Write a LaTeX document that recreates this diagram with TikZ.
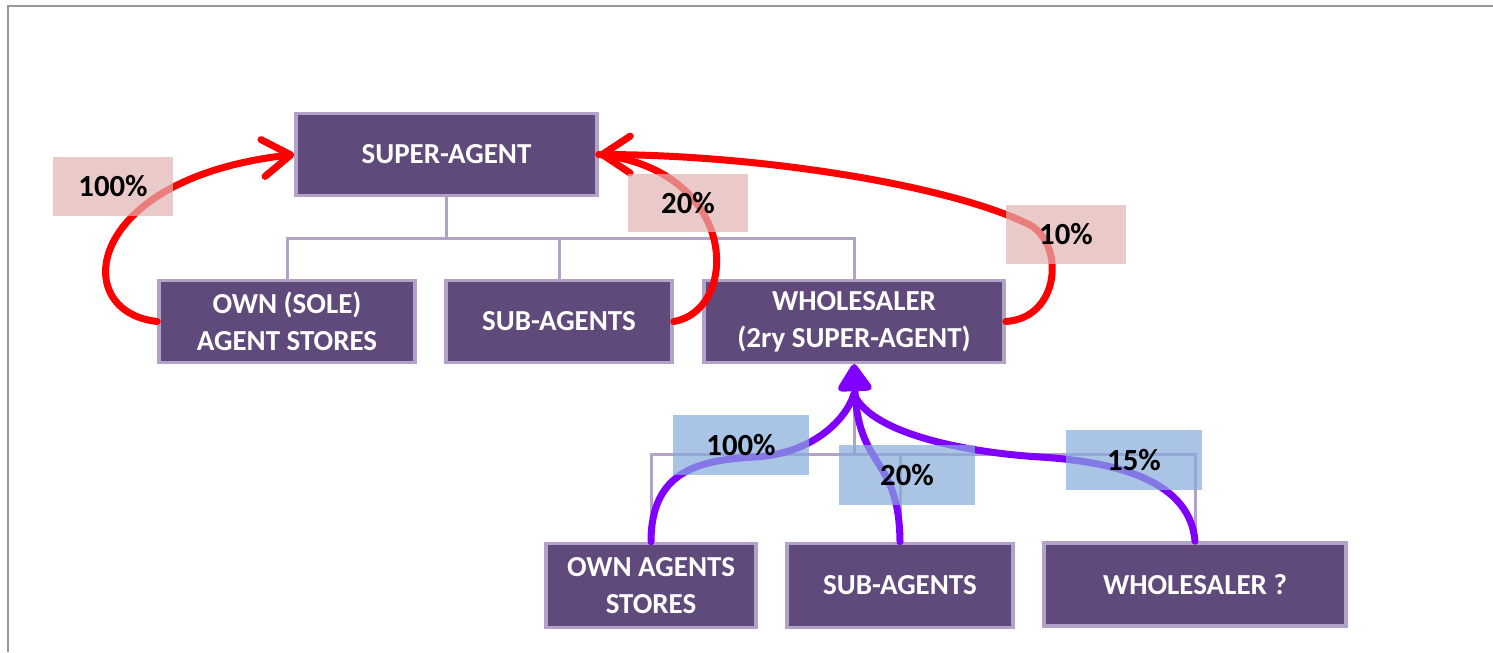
\documentclass[tikz,border=0pt]{standalone}
\usepackage{fontspec}
\setmainfont{Carlito}
\usetikzlibrary{positioning,arrows.meta,calc}
\definecolor{boxfill}{RGB}{96,74,123}
\definecolor{boxline}{RGB}{179,162,199}
\definecolor{pinklab}{RGB}{225,180,178}
\definecolor{bluelab}{RGB}{134,171,220}
\definecolor{violetarr}{RGB}{128,0,255}

\begin{document}
\begin{tikzpicture}[
  x=0.02cm, y=-0.02cm,
  font=\bfseries\fontsize{16.5}{21}\selectfont,
  box/.style={draw=boxline, fill=boxfill, line width=0.07cm, text=white, align=center, inner sep=0pt, minimum height=1.64cm},
  tree/.style={draw=boxline, line width=0.06cm},
  lab/.style={fill=#1, fill opacity=0.7, text opacity=1, inner sep=0pt, minimum width=2.4cm, minimum height=1.18cm, font=\bfseries\fontsize{17.5}{21}\selectfont},
  redarr/.style={draw=red, line width=0.14cm, line cap=round, -{Straight Barb[length=5.6mm, width=7.4mm, round]}},
  vioarr/.style={draw=violetarr, line width=0.14cm, line cap=round},
]
\useasboundingbox (0,0) rectangle (1493,652);
\draw[gray!80, line width=0.05cm] (8,652) -- (8,6) -- (1493,6);

% top level
\node[box, minimum width=6.02cm] (sa) at (446.5,154.5) {SUPER-AGENT};
\node[box, minimum width=5.12cm] (own) at (287,321.5) {OWN (SOLE)\\AGENT STORES};
\node[box, minimum width=4.52cm] (sub) at (559,321.5) {SUB-AGENTS};
\node[box, minimum width=6.0cm] (wh) at (854,321.5) {WHOLESALER\\(2ry SUPER-AGENT)};
\draw[tree] (sa.south) -- ++(0,41) -| (own.north);
\draw[tree] (sa.south) -- ++(0,41) -| (sub.north);
\draw[tree] (sa.south) -- ++(0,41) -| (wh.north);

% below the wholesaler
\node[box, minimum width=4.2cm, minimum height=1.68cm] (ownb) at (651,585.5) {OWN AGENTS\\STORES};
\node[box, minimum width=4.52cm, minimum height=1.68cm] (subb) at (900,585.5) {SUB-AGENTS};
\node[box, minimum width=6.04cm, minimum height=1.66cm] (whb) at (1195,584.5) {WHOLESALER ?};
\draw[tree] (wh.south) -- ++(0,90) -| (ownb.north);
\draw[tree] (wh.south) -- ++(0,90) -| (subb.north);
\draw[tree] (wh.south) -- ++(0,90) -| (whb.north);

% shares going up
\draw[redarr] (own.west) .. controls (68,312) and (84,178) .. (sa.west);
\draw[redarr, -] (sub.east) .. controls (740,310) and (740,170) .. (sa.east);
\draw[redarr] (wh.east) .. controls (1060,318) and (1065,245) .. (1030,225)
  .. controls (950,185) and (760,155) .. (sa.east);

\coordinate (meet) at (854,394);
\draw[vioarr] (ownb.north) .. controls (651,470) and (700,460) .. (755,457)
  .. controls (810,454) and (845,422) .. (meet);
\draw[vioarr] (whb.north) .. controls (1190,482) and (1120,462) .. (1040,457)
  .. controls (960,452) and (870,432) .. (meet);
\draw[vioarr, -{Triangle[length=6mm, width=7.6mm, round]}]
  (subb.north) .. controls (899,455) and (858,470) .. (wh.south);

% labels
\node[lab=pinklab] (l1) at (113,186.5) {100\%};
\node[lab=pinklab] (l2) at (688,203) {20\%};
\node[lab=pinklab] (l3) at (1066,234.5) {10\%};
\node[lab=bluelab, minimum width=2.72cm, minimum height=1.2cm] (l4) at (741,445) {100\%};
\node[lab=bluelab, minimum width=2.72cm, minimum height=1.2cm] (l5) at (907,475) {20\%};
\node[lab=bluelab, minimum width=2.72cm, minimum height=1.2cm] (l6) at (1134,460) {15\%};
\end{tikzpicture}
\end{document}
